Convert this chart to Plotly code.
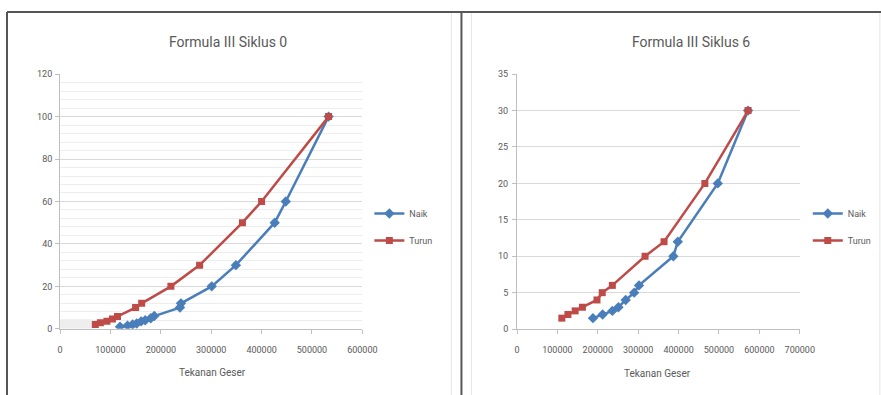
import plotly.graph_objects as go

# ---- data: Formula III Siklus 0 ----
s0_naik_x = [119000, 134000, 144000, 152000, 161000, 169000, 180000, 187000, 238000, 240000, 301000, 349000, 426000, 448000, 533000]
s0_naik_y = [1, 1.5, 2, 2.5, 3.5, 4, 5, 6, 10, 12, 20, 30, 50, 60, 100]
s0_turun_x = [70000, 80000, 93000, 104000, 114000, 150000, 162000, 220000, 277000, 362000, 400000, 533000]
s0_turun_y = [2, 2.8, 3.6, 4.6, 5.8, 10, 12, 20, 30, 50, 60, 100]

# ---- data: Formula III Siklus 6 ----
s6_naik_x = [188000, 212000, 236000, 251000, 269000, 290000, 302000, 387000, 398000, 497000, 572000]
s6_naik_y = [1.5, 2, 2.5, 3, 4, 5, 6, 10, 12, 20, 30]
s6_turun_x = [111000, 126000, 144000, 162000, 198000, 211000, 236000, 317000, 364000, 465000, 572000]
s6_turun_y = [1.5, 2, 2.5, 3, 4, 5, 6, 10, 12, 20, 30]

titles = ["Formula III Siklus 0", "Formula III Siklus 6"]
x_title = "Tekanan Geser"
series_names = ["Naik", "Turun"]

BLUE = "#4A7EBB"
RED = "#BE4B48"
TXT = "#595959"
FONT = "Roboto, sans-serif"

PW, PH = 898, 406
def fx(r):
    return ((r - 3) / 0.979) / PW
def fy(r):
    return 1 - ((r - 5) / 0.973) / PH

fig = go.Figure()

def add(xs, ys, name, color, symbol, size, xa, ya, leg, grp):
    fig.add_trace(go.Scatter(x=xs, y=ys, name=name, mode="lines+markers",
                             line=dict(color=color, width=2.5),
                             marker=dict(symbol=symbol, size=size, color=color),
                             xaxis=xa, yaxis=ya, legend=leg, legendgroup=grp))

add(s0_naik_x, s0_naik_y, series_names[0], BLUE, "diamond", 8, "x", "y", "legend", "a")
add(s0_turun_x, s0_turun_y, series_names[1], RED, "square", 7, "x", "y", "legend", "b")
add(s6_naik_x, s6_naik_y, series_names[0], BLUE, "diamond", 8, "x2", "y2", "legend2", "c")
add(s6_turun_x, s6_turun_y, series_names[1], RED, "square", 7, "x2", "y2", "legend2", "d")

tickfont = dict(family=FONT, size=9, color=TXT)
axis_common = dict(showline=True, linecolor="#BFBFBF", linewidth=1, ticks="outside", ticklen=4,
                   tickcolor="#BFBFBF", tickfont=tickfont, zeroline=False, fixedrange=True,
                   tickformat="d")

legfont = dict(family=FONT, size=9, color=TXT)
fig.update_layout(
    width=PW, height=PH, margin=dict(l=0, r=0, t=0, b=0),
    paper_bgcolor="white", plot_bgcolor="white",
    font=dict(family=FONT, color=TXT),
    xaxis=dict(domain=[fx(60), fx(362)], range=[0, 600000], dtick=100000, anchor="y",
               showgrid=False, ticklabelstandoff=8, **axis_common),
    yaxis=dict(domain=[fy(328), fy(74)], range=[0, 120], dtick=20, anchor="x",
               showgrid=True, gridcolor="#D9D9D9", gridwidth=1,
               minor=dict(dtick=4, showgrid=True, gridcolor="#EDEDED", gridwidth=1),
               ticklabelstandoff=1, **axis_common),
    xaxis2=dict(domain=[fx(516.5), fx(799)], range=[0, 700000], dtick=100000, anchor="y2",
                showgrid=False, ticklabelstandoff=8, **axis_common),
    yaxis2=dict(domain=[fy(328.3), fy(74)], range=[0, 35], dtick=5, anchor="x2",
                showgrid=True, gridcolor="#D9D9D9", gridwidth=1,
                ticklabelstandoff=2, **axis_common),
    legend=dict(x=fx(369), y=fy(198.5), xanchor="left", yanchor="top", font=legfont,
                bgcolor="rgba(0,0,0,0)", itemwidth=30, tracegroupgap=8),
    legend2=dict(x=fx(807), y=fy(198.5), xanchor="left", yanchor="top", font=legfont,
                 bgcolor="rgba(0,0,0,0)", itemwidth=30, tracegroupgap=8),
    showlegend=True,
)

annotations = [
    dict(text=titles[0], x=fx(228), y=fy(42), xref="paper", yref="paper", showarrow=False,
         font=dict(family=FONT, size=14, color=TXT), xanchor="center", yanchor="middle"),
    dict(text=titles[1], x=fx(690), y=fy(42), xref="paper", yref="paper", showarrow=False,
         font=dict(family=FONT, size=14, color=TXT), xanchor="center", yanchor="middle"),
    dict(text=x_title, x=fx(212), y=fy(372), xref="paper", yref="paper", showarrow=False,
         font=dict(family=FONT, size=10, color=TXT), xanchor="center", yanchor="middle"),
    dict(text=x_title, x=fx(657), y=fy(373), xref="paper", yref="paper", showarrow=False,
         font=dict(family=FONT, size=10, color=TXT), xanchor="center", yanchor="middle"),
]
fig.update_layout(annotations=annotations)

shapes = [
    dict(type="rect", xref="x", yref="y", x0=0, x1=65000, y0=0, y1=4.5, fillcolor="#EEEEEE", line=dict(width=0), layer="below"),
    dict(type="line", xref="paper", yref="paper", x0=fx(451), x1=fx(451), y0=0, y1=fy(12), line=dict(color="#E6E6E6", width=1)),
    dict(type="line", xref="paper", yref="paper", x0=fx(471), x1=fx(471), y0=0, y1=fy(12), line=dict(color="#E6E6E6", width=1)),
    dict(type="line", xref="paper", yref="paper", x0=fx(879), x1=fx(879), y0=0, y1=fy(12), line=dict(color="#E6E6E6", width=1)),
    dict(type="line", xref="paper", yref="paper", x0=fx(7), x1=1, y0=fy(12), y1=fy(12), line=dict(color="#555555", width=2)),
    dict(type="line", xref="paper", yref="paper", x0=fx(7), x1=fx(7), y0=0, y1=fy(12), line=dict(color="#555555", width=2)),
    dict(type="line", xref="paper", yref="paper", x0=fx(461), x1=fx(461), y0=0, y1=fy(12), line=dict(color="#555555", width=2)),
]
fig.update_layout(shapes=shapes)

fig.write_html("out.html", config={"displayModeBar": False},
               post_script="document.body.style.margin='0';document.body.style.padding='0';document.body.style.overflow='hidden';")
